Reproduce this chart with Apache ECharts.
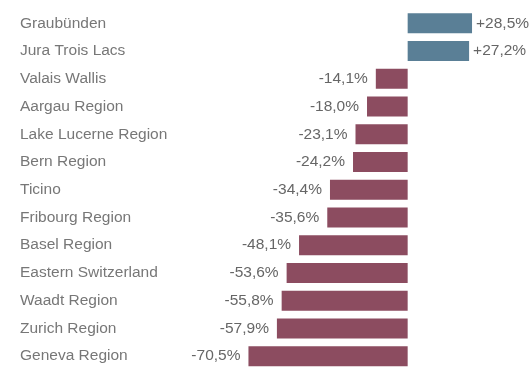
<!DOCTYPE html>
<html>
<head>
<meta charset="utf-8">
<script src="https://cdn.jsdelivr.net/npm/echarts@6/dist/echarts.min.js"></script>
<style>
  html, body { margin: 0; padding: 0; background: #fff; }
  #chart { width: 531px; height: 370px; }
</style>
</head>
<body>
<div id="chart"></div>
<script>
// Change in overnight stays by tourism region (percent)
const regions = [
  'Graubünden', 'Jura Trois Lacs', 'Valais Wallis', 'Aargau Region',
  'Lake Lucerne Region', 'Bern Region', 'Ticino', 'Fribourg Region',
  'Basel Region', 'Eastern Switzerland', 'Waadt Region', 'Zurich Region',
  'Geneva Region'
];
const changes = [28.5, 27.2, -14.1, -18.0, -23.1, -24.2, -34.4, -35.6, -48.1, -53.6, -55.8, -57.9, -70.5];

const POS_COLOR = '#5a7f96';
const NEG_COLOR = '#8c4c60';

function fmt(v) {
  return (v > 0 ? '+' : '') + v.toFixed(1).replace('.', ',') + '%';
}

const chart = echarts.init(document.getElementById('chart'), null, { renderer: 'canvas' });

chart.setOption({
  animation: false,
  backgroundColor: '#fff',
  grid: { left: 227, right: 33, top: 9.5, height: 364, containLabel: false },
  xAxis: {
    type: 'value',
    min: -80,
    max: 40,
    show: false
  },
  yAxis: {
    type: 'category',
    data: regions,
    inverse: true,
    axisLine: { show: false },
    axisTick: { show: false },
    splitLine: { show: false },
    axisLabel: {
      align: 'left',
      margin: 207,
      color: '#777',
      fontFamily: 'Liberation Sans, Arial, sans-serif',
      fontSize: 15.5
    }
  },
  series: [{
    type: 'bar',
    barWidth: 20,
    data: changes.map(v => ({
      value: v,
      itemStyle: { color: v >= 0 ? POS_COLOR : NEG_COLOR },
      label: {
        position: v >= 0 ? 'right' : 'left',
        distance: v >= 0 ? 4 : 8
      }
    })),
    label: {
      show: true,
      formatter: p => fmt(p.value),
      color: '#666',
      fontFamily: 'Liberation Sans, Arial, sans-serif',
      fontSize: 15.5
    }
  }]
});
</script>
</body>
</html>
